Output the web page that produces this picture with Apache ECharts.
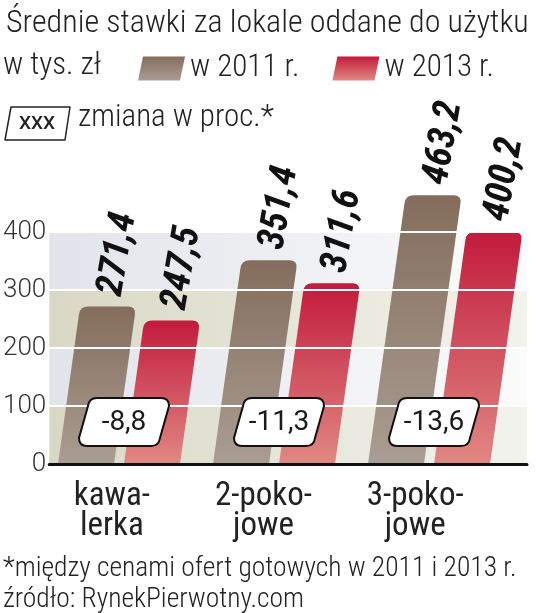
<!DOCTYPE html>
<html><head><meta charset="utf-8">
<script src="https://cdn.jsdelivr.net/npm/echarts@6/dist/echarts.min.js"></script>
<style>html,body{margin:0;padding:0;background:#fff}#c{width:536px;height:613px}</style>
</head><body><div id="c"></div>
<script>
// ---- data ----
const categories = ['kawa-\nlerka', '2-poko-\njowe', '3-poko-\njowe'];
const values2011 = [271.4, 351.4, 463.2];
const values2013 = [247.5, 311.6, 400.2];
const changes = [-8.8, -11.3, -13.6];
const seriesNames = ['w 2011 r.', 'w 2013 r.'];
const yMin = 0, yMax = 400, yInterval = 100;

// ---- style ----
const COND = "'Roboto Condensed', sans-serif";
const REG = "Roboto, sans-serif";
const TXT = '#222';
const fmt = v => v.toFixed(1).replace('.', ',');
const brownGrad = () => new echarts.graphic.LinearGradient(0,0,0,1,[{offset:0,color:'#846d5c'},{offset:1,color:'#aa9d93'}]);
const redGrad = () => new echarts.graphic.LinearGradient(0,0,0,1,[{offset:0,color:'#c21b3c'},{offset:1,color:'#e08883'}]);
const bandGreen = new echarts.graphic.LinearGradient(0,0,1,0,[{offset:0,color:'#d8d8c4'},{offset:1,color:'#f3f3ee'}]);
const bandBlue = new echarts.graphic.LinearGradient(0,0,1,0,[{offset:0,color:'#e1e4eb'},{offset:1,color:'#fbfbfb'}]);

const K = 0.14, BW = 56, R = 8;
function barGeom(api, offset) {
  const i = api.value(0), v = api.value(1);
  const base = api.coord([i, 0]), top = api.coord([i, v]);
  const h = base[1] - top[1];
  const bl = base[0] + offset;
  return { v, bl, br: bl + BW, tl: bl + K * h, tr: bl + K * h + BW, ty: top[1], by: base[1] };
}
function barRender(offset, gradFn) {
  return function (params, api) {
    const g = barGeom(api, offset);
    const d = `M${g.bl},${g.by} L${g.tl - K*R},${g.ty+R} Q${g.tl},${g.ty} ${g.tl+R},${g.ty} L${g.tr-R},${g.ty} Q${g.tr},${g.ty} ${g.tr-K*R},${g.ty+R} L${g.br},${g.by} Z`;
    return { type: 'path', shape: { pathData: d }, style: { fill: gradFn() } };
  };
}
function labelRender(offset) {
  return function (params, api) {
    const g = barGeom(api, offset);
    return { type: 'text', x: g.tl + BW/2 + 3, y: g.ty - 11, rotation: 80 * Math.PI / 180,
      style: { text: fmt(g.v), fontFamily: COND, fontSize: 38, fontWeight: 'bold', fontStyle: 'italic',
               fill: '#111', align: 'left', verticalAlign: 'middle' } };
  };
}
function boxRender(params, api) {
  const i = api.value(0), c = api.value(1);
  const base = api.coord([i, 0]);
  const cx = base[0] + 5, cy = base[1] - 42;
  const w = 80, hh = 48, s = 5, r = 8;
  const x0 = cx - w/2, x1 = cx + w/2, y0 = cy - hh/2, y1 = cy + hh/2;
  const d = `M${x0+s+r},${y0} L${x1+s-r},${y0} Q${x1+s},${y0} ${x1+s},${y0+r} L${x1-s+1},${y1-r} Q${x1-s},${y1} ${x1-s-r},${y1} L${x0-s+r},${y1} Q${x0-s},${y1} ${x0-s},${y1-r} L${x0+s-1},${y0+r} Q${x0+s},${y0} ${x0+s+r},${y0} Z`;
  return { type: 'group', children: [
    { type: 'path', shape: { pathData: d }, style: { fill: '#fff', stroke: '#111', lineWidth: 2 } },
    { type: 'text', x: cx, y: cy + 1, style: { text: fmt(c), fontFamily: REG, fontSize: 28, fill: '#1a1a1a', align: 'center', verticalAlign: 'middle' } }
  ]};
}

const gridTop = 232, gridBottom = 149;
const chart = echarts.init(document.getElementById('c'), null, { renderer: 'canvas' });
chart.setOption({
  animation: false,
  backgroundColor: '#fff',
  title: { text: 'Średnie stawki za lokale oddane do użytku', left: 1, top: 3,
    textStyle: { fontFamily: COND, fontSize: 32, fontWeight: 300, color: TXT } },
  legend: {
    data: seriesNames, left: 133, top: 48, width: 400, itemWidth: 47, itemHeight: 24, itemGap: 33,
    icon: 'path://M5,0 L47,0 L42,24 L0,24 Z',
    textStyle: { fontFamily: COND, fontSize: 31, fontWeight: 300, color: TXT }
  },
  graphic: [
    { type: 'text', left: 3, top: 51, style: { text: 'w tys. zł', font: `300 31px ${COND}`, fill: TXT } },
    { type: 'polygon', shape: { points: [[11,107],[70,107],[65,140],[5,140]] },
      style: { fill: '#fff', stroke: '#222', lineWidth: 1.5, lineJoin: 'round' } },
    { type: 'text', left: 19, top: 115, style: { text: 'XXX', font: `500 19px ${REG}`, fill: TXT } },
    { type: 'text', left: 78, top: 103, style: { text: 'zmiana w proc.*', font: `300 31px ${COND}`, fill: TXT } },
    { type: 'text', left: 3, top: 555, style: { text: '*między cenami ofert gotowych w 2011 i 2013 r.', font: `300 27.5px ${COND}`, fill: TXT } },
    { type: 'text', left: 3, top: 586, style: { text: 'źródło: RynekPierwotny.com', font: `300 27.5px ${COND}`, fill: TXT } }
  ],
  grid: [
    { left: 42, right: 9, top: gridTop, bottom: gridBottom },
    { left: 41.5, width: 465, top: gridTop, bottom: gridBottom },
    { left: 36, width: 455, top: gridTop, bottom: gridBottom }
  ],
  xAxis: [
    { gridIndex: 0, type: 'category', data: categories, z: 6, axisLine: { lineStyle: { color: '#111', width: 3 } }, axisTick: { show: false }, axisLabel: { show: false } },
    { gridIndex: 1, type: 'category', data: categories, show: false },
    { gridIndex: 2, type: 'category', data: categories, axisLine: { show: false }, axisTick: { show: false },
      axisLabel: { margin: 18, fontFamily: COND, fontSize: 33, color: TXT, lineHeight: 30 } }
  ],
  yAxis: [
    { gridIndex: 0, type: 'value', min: yMin, max: yMax, interval: yInterval, z: 0,
      axisLine: { show: false }, axisTick: { show: false },
      axisLabel: { margin: 3, fontFamily: REG, fontWeight: 300, fontSize: 26, color: '#333' },
      splitLine: { show: false },
      splitArea: { show: true, areaStyle: { color: [bandGreen, bandBlue] } } },
    { gridIndex: 0, type: 'value', min: yMin, max: yMax, interval: yInterval, z: 5, position: 'left',
      axisLine: { show: false }, axisTick: { show: false }, axisLabel: { show: false },
      splitLine: { show: true, lineStyle: { color: '#fff', width: 2 } } },
    { gridIndex: 1, type: 'value', min: yMin, max: yMax, interval: yInterval, show: false },
    { gridIndex: 2, type: 'value', min: yMin, max: yMax, interval: yInterval, show: false }
  ],
  series: [
    { name: seriesNames[0], type: 'custom', xAxisIndex: 1, yAxisIndex: 2, z: 3,
      itemStyle: { color: brownGrad() }, renderItem: barRender(-61, brownGrad),
      data: values2011.map((v, i) => [i, v]) },
    { name: seriesNames[1], type: 'custom', xAxisIndex: 1, yAxisIndex: 2, z: 3,
      itemStyle: { color: redGrad() }, renderItem: barRender(5, redGrad),
      data: values2013.map((v, i) => [i, v]) },
    { name: 'etykiety 2011', type: 'custom', xAxisIndex: 1, yAxisIndex: 2, z: 8,
      renderItem: labelRender(-61), data: values2011.map((v, i) => [i, v]) },
    { name: 'etykiety 2013', type: 'custom', xAxisIndex: 1, yAxisIndex: 2, z: 8,
      renderItem: labelRender(5), data: values2013.map((v, i) => [i, v]) },
    { name: 'zmiana', type: 'custom', xAxisIndex: 1, yAxisIndex: 2, z: 10,
      renderItem: boxRender, data: changes.map((c, i) => [i, c]) }
  ]
});
</script></body></html>
